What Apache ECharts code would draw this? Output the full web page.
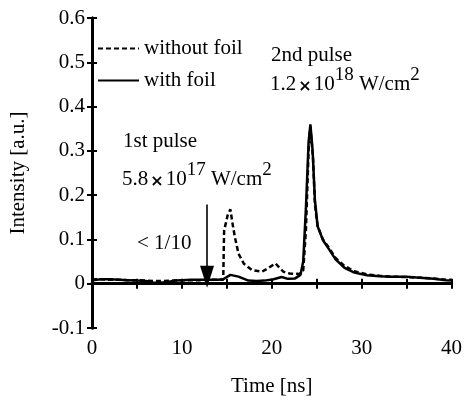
<!DOCTYPE html>
<html><head><meta charset="utf-8">
<script src="https://cdn.jsdelivr.net/npm/echarts@6/dist/echarts.min.js"></script>
<style>html,body{margin:0;padding:0;background:#fff}#c{width:465px;height:402px}</style>
</head><body><div id="c"></div>
<script>
// ---- data ----
var xTicks = [0, 10, 20, 30, 40];
var yTicks = [-0.1, 0, 0.1, 0.2, 0.3, 0.4, 0.5, 0.6];
var timeNoFoil = [0,1,2,3,4,5,6,7,8,9,10,11,12,13,14,14.6,14.7,15.1,15.4,15.6,15.9,16.3,16.9,17.8,18.9,19.6,20.4,21.3,22,23.1,23.5,23.8,24.1,24.3,24.6,24.8,25.1,25.7,26.4,27.1,28.1,29.2,30.6,32,33.2,35,36.1,38,39.4,40];
var valNoFoil  = [0.01,0.01,0.009,0.009,0.008,0.008,0.007,0.006,0.006,0.007,0.008,0.008,0.008,0.009,0.009,0.009,0.12,0.155,0.168,0.14,0.105,0.068,0.045,0.031,0.027,0.035,0.046,0.027,0.023,0.022,0.03,0.12,0.3,0.355,0.28,0.18,0.13,0.1,0.08,0.058,0.04,0.028,0.021,0.018,0.016,0.015,0.014,0.012,0.009,0.009];
var timeFoil = [0,1,2,3,4,5,6,6.8,7.6,8.4,9.2,10,11,12,13,14,14.6,15.4,16.3,17.4,18.3,19.2,20.2,21.1,21.8,22.6,23.2,23.5,23.8,24.1,24.3,24.55,24.8,25.1,25.7,26.4,27.1,28.1,29.2,30.6,32,33.2,35,36.1,38,39.4,40];
var valFoil  = [0.008,0.01,0.01,0.009,0.008,0.007,0.006,0.003,0.002,0.004,0.007,0.008,0.009,0.009,0.009,0.009,0.01,0.02,0.016,0.007,0.006,0.007,0.01,0.015,0.011,0.012,0.02,0.05,0.17,0.32,0.36,0.3,0.19,0.13,0.098,0.077,0.055,0.036,0.025,0.019,0.017,0.016,0.016,0.014,0.011,0.008,0.007];
var arrowFrom = [12.8, 0.179];
var arrowTo = [12.8, 0.016];
var seriesNames = ['without foil', 'with foil'];

function pairs(t, v) { return t.map(function (x, i) { return [x, v[i]]; }); }

var FONT = 'Liberation Serif';
var FS = 21;
var chart = echarts.init(document.getElementById('c'), null, {renderer: 'canvas'});
var axisLine = {show: true, lineStyle: {color: '#000', width: 3}};
var tick = {show: true, inside: true, length: 5, lineStyle: {color: '#000', width: 2}};
var rich = {
  n: {fontFamily: FONT, fontSize: FS, color: '#000', verticalAlign: 'bottom', lineHeight: 29},
  x: {fontFamily: 'DejaVu Sans', fontSize: 16, fontWeight: 'bold', color: '#000', verticalAlign: 'bottom', lineHeight: 27, padding: [0, 2, 0, 2]},
  s: {fontFamily: FONT, fontSize: 19, color: '#000', verticalAlign: 'top', lineHeight: 22}
};
chart.setOption({
  animation: false,
  textStyle: {fontFamily: FONT},
  grid: {left: 92, right: 10, top: 18, bottom: 70},
  legend: {
    orient: 'vertical', left: 92, top: 33, itemWidth: 41, itemHeight: 14, itemGap: 11,
    data: seriesNames,
    itemStyle: {color: 'rgba(0,0,0,0)', borderWidth: 0, opacity: 0},
    textStyle: {fontFamily: FONT, fontSize: FS, color: '#000'}
  },
  xAxis: [{
    type: 'value', min: 0, max: 40, interval: 5,
    axisLine: axisLine, axisTick: tick, splitLine: {show: false},
    axisLabel: {fontFamily: FONT, fontSize: FS, color: '#000', margin: 10,
      formatter: function (v) { return xTicks.indexOf(v) >= 0 ? String(v) : ''; }},
    name: 'Time [ns]', nameLocation: 'middle', nameGap: 48,
    nameTextStyle: {fontFamily: FONT, fontSize: FS, color: '#000'}
  }, {
    type: 'value', position: 'top', min: 0, max: 40, interval: 5,
    axisLine: axisLine, axisTick: tick, axisLabel: {show: false}, splitLine: {show: false}
  }],
  yAxis: [{
    type: 'value', min: -0.1, max: 0.6, interval: 0.1,
    axisLine: axisLine, axisTick: tick, splitLine: {show: false},
    axisLabel: {fontFamily: FONT, fontSize: FS, color: '#000', margin: 7,
      formatter: function (v) { var r = Math.round(v * 10) / 10; return String(r); }},
    name: 'Intensity [a.u.]', nameLocation: 'middle', nameGap: 63,
    nameTextStyle: {fontFamily: FONT, fontSize: FS, color: '#000'}
  }, {
    type: 'value', position: 'right', min: -0.1, max: 0.6, interval: 0.1,
    axisLine: axisLine, axisTick: tick, axisLabel: {show: false}, splitLine: {show: false}
  }],
  series: [{
    name: seriesNames[0], type: 'line', symbol: 'none', z: 3,
    data: pairs(timeNoFoil, valNoFoil),
    lineStyle: {color: '#000', width: 2.5, type: [5, 3]},
    itemStyle: {color: '#000'},
    markLine: {
      silent: true, symbol: ['none', 'triangle'], symbolSize: [14, 22],
      lineStyle: {color: '#000', width: 1.6, type: 'solid'},
      label: {show: false},
      data: [[{coord: arrowFrom}, {coord: arrowTo}]]
    }
  }, {
    name: seriesNames[1], type: 'line', symbol: 'none', z: 2,
    data: pairs(timeFoil, valFoil),
    lineStyle: {color: '#000', width: 2.5, type: 'solid'},
    itemStyle: {color: '#000'}
  }],
  graphic: [
    {type: 'text', left: 271, top: 45, style: {text: '2nd pulse', font: FS + 'px "Liberation Serif"', fill: '#000'}},
    {type: 'text', left: 270, top: 66, style: {text: '{n|1.2}{x|×}{n|10}{s|18}{n| W/cm}{s|2}', rich: rich}},
    {type: 'text', left: 123, top: 131, style: {text: '1st pulse', font: FS + 'px "Liberation Serif"', fill: '#000'}},
    {type: 'text', left: 122, top: 161, style: {text: '{n|5.8}{x|×}{n|10}{s|17}{n| W/cm}{s|2}', rich: rich}},
    {type: 'text', left: 137, top: 233, style: {text: '< 1/10', font: FS + 'px "Liberation Serif"', fill: '#000'}}
  ]
});
</script></body></html>
